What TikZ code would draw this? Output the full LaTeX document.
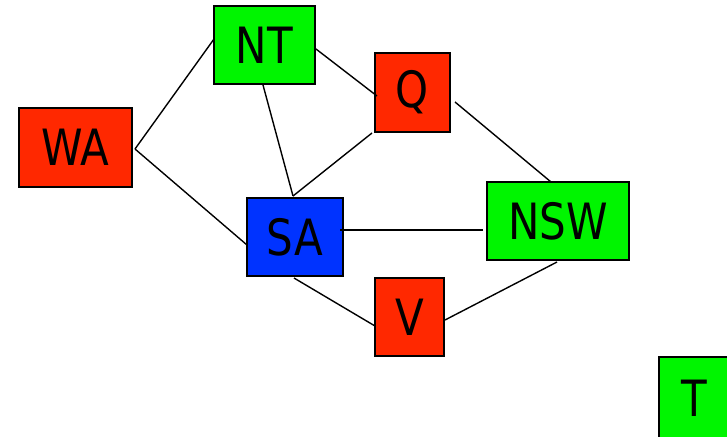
\documentclass[tikz,border=0pt]{standalone}
\usepackage{fontspec}
\setmainfont{DejaVu Sans}[FakeStretch=0.84]
\usetikzlibrary{calc}
\definecolor{cred}{RGB}{255,40,0}
\definecolor{cgreen}{RGB}{0,245,0}
\definecolor{cblue}{RGB}{0,51,255}
\tikzset{
  region/.style={draw=black, line width=1.5pt, inner sep=0pt, anchor=center,
    font=\fontsize{50}{50}\selectfont},
  link/.style={draw=black, line width=1.4pt}
}
\begin{document}
\begin{tikzpicture}[x=1pt,y=-1pt]
\clip (0,0) rectangle (727,436);
\useasboundingbox (0,0) rectangle (727,436);
\node[region, fill=cred, minimum width=113pt, minimum height=79pt] (WA) at (75.5,147.5) {WA};
\node[region, fill=cgreen, minimum width=101pt, minimum height=78pt] (NT) at (264.5,45) {NT};
\node[region, fill=cred, minimum width=75pt, minimum height=79pt] (Q) at (412.5,92.5) {Q};
\node[region, fill=cblue, minimum width=96pt, minimum height=78pt] (SA) at (295,237) {SA};
\node[region, fill=cgreen, minimum width=142pt, minimum height=78pt] (NSW) at (558,221) {NSW};
\node[region, fill=cred, minimum width=69pt, minimum height=78pt] (V) at (409.5,317) {V};
\node[region, fill=cgreen, minimum width=71pt, minimum height=83pt] (T) at (694.5,398.5) {T};
\draw[link] ($(WA.center)+(59.5,1.5)$) -- ($(NT.center)+(-50.5,-6)$);
\draw[link] ($(WA.center)+(59.5,1.5)$) -- ($(SA.center)+(-48,8)$);
\draw[link] ($(NT.center)+(-1.5,40)$) -- ($(SA.center)+(-2,-41)$);
\draw[link] ($(NT.center)+(51.5,4)$) -- ($(Q.center)+(-35.5,3.5)$);
\draw[link] ($(Q.center)+(-40.5,40.5)$) -- ($(SA.center)+(-2,-41)$);
\draw[link] ($(Q.center)+(42.5,9.5)$) -- ($(NSW.center)+(-7,-39)$);
\draw[link] ($(SA.center)+(45,-7)$) -- ($(NSW.center)+(-75,9)$);
\draw[link] ($(SA.center)+(-1,41)$) -- ($(V.center)+(-34.5,9)$);
\draw[link] ($(V.center)+(35.5,3)$) -- ($(NSW.center)+(-1,41)$);
\end{tikzpicture}
\end{document}
